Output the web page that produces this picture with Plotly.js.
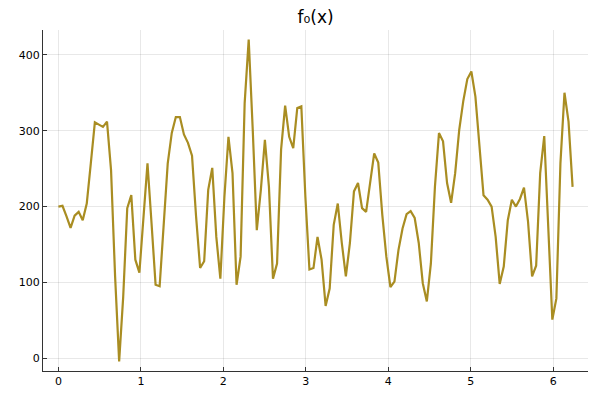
<!DOCTYPE html>
<html>
<head>
<meta charset="utf-8">
<script src="https://cdn.plot.ly/plotly-3.0.1.min.js"></script>
<style>html,body{margin:0;padding:0;background:#fff}#chart{width:600px;height:400px}</style>
</head>
<body>
<div id="chart"></div>
<script>
// Samples k = 0..127, x = 2*pi*k/128
const N = 128;
const xIndex = Array.from({length: N}, (_, k) => k);
const xValues = xIndex.map(k => 2 * Math.PI * k / N);
const f0Values = [
  200, 201, 187, 172, 188, 193, 182, 204, 257, 311,
  308, 305, 312, 248, 108, -4, 81, 198, 215, 130,
  113, 185, 257, 178, 97, 95, 178, 257, 297, 318,
  318, 295, 284, 267, 187, 119, 128, 222, 251, 160,
  105, 213, 292, 244, 97, 134, 336, 420, 301, 169,
  222, 288, 226, 105, 125, 275, 333, 292, 277, 330,
  332, 213, 117, 119, 160, 130, 69, 92, 176, 204,
  152, 108, 152, 220, 231, 198, 193, 231, 270, 258,
  189, 134, 94, 101, 143, 171, 190, 194, 185, 152,
  99, 75, 125, 226, 297, 286, 231, 205, 244, 301,
  339, 368, 378, 345, 279, 215, 209, 200, 160, 98,
  121, 182, 209, 200, 210, 225, 180, 108, 122, 244,
  293, 169, 51, 79, 257, 350, 312, 226
];
const titleText = 'f\u2080(x)';
const xTicks = [0, 1, 2, 3, 4, 5, 6];
const yTicks = [0, 100, 200, 300, 400];

const xmin = Math.min(...xValues), xmax = Math.max(...xValues);
const ymin = Math.min(...f0Values), ymax = Math.max(...f0Values);
const xpad = 0.03 * (xmax - xmin), ypad = 0.03 * (ymax - ymin);

const trace = {
  x: xValues, y: f0Values, type: 'scatter', mode: 'lines',
  line: {color: '#A98D22', width: 2.2}, hoverinfo: 'skip'
};
const axisCommon = {
  showgrid: true, gridcolor: 'rgba(0,0,0,0.09)', gridwidth: 1,
  zeroline: false, showline: true, linecolor: '#333', linewidth: 1,
  ticks: 'inside', ticklen: 4, tickcolor: '#333', tickwidth: 1,
  tickfont: {family: 'DejaVu Sans', size: 11, color: '#000'},
  mirror: false
};
const layout = {
  width: 600, height: 400,
  margin: {l: 43, r: 12, t: 30, b: 29},
  paper_bgcolor: '#fff', plot_bgcolor: '#fff',
  showlegend: false,
  title: {text: titleText, x: 0.526, xref: 'container', xanchor: 'center',
          y: 0.958, yref: 'container', yanchor: 'middle',
          font: {family: 'DejaVu Sans', size: 17, color: '#000'}},
  xaxis: Object.assign({}, axisCommon, {range: [xmin - xpad, xmax + xpad],
          tickvals: xTicks, ticktext: xTicks.map(String)}),
  yaxis: Object.assign({}, axisCommon, {range: [ymin - ypad, ymax + ypad],
          tickvals: yTicks, ticktext: yTicks.map(String)})
};
Plotly.newPlot('chart', [trace], layout, {displayModeBar: false, staticPlot: true});
</script>
</body>
</html>
